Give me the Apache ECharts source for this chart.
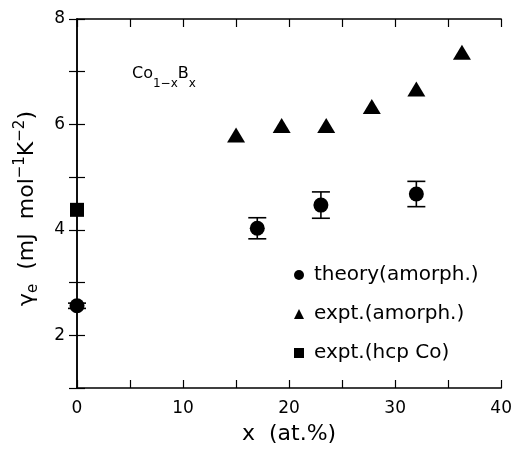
<!DOCTYPE html>
<html>
<head>
<meta charset="utf-8">
<script src="https://cdn.jsdelivr.net/npm/echarts@6/dist/echarts.min.js"></script>
<style>
  html, body { margin: 0; padding: 0; background: #fff; }
  #chart { width: 515px; height: 450px; }
</style>
</head>
<body>
<div id="chart"></div>
<script>
// Electronic specific-heat coefficient of amorphous Co(1-x)B(x)
const xTickLabels = [0, 10, 20, 30, 40];
const yTickLabels = [2, 4, 6, 8];

// theory (amorphous): composition, gamma, error half-width
const theoryX = [0, 17, 23, 32];
const theoryY = [2.56, 4.03, 4.47, 4.68];
const theoryErr = [0.05, 0.2, 0.25, 0.24];

// experiment (amorphous)
const exptX = [15, 19.3, 23.5, 27.8, 32, 36.3];
const exptY = [5.8, 5.98, 5.98, 6.34, 6.67, 7.37];

// experiment (hcp Co)
const hcpX = [0];
const hcpY = [4.38];

const FONT = 'DejaVu Sans';
const BLACK = '#000';

const theoryData = theoryX.map((x, i) => [x, theoryY[i]]);
const errData = theoryX.map((x, i) => [x, theoryY[i], theoryErr[i]]);
const exptData = exptX.map((x, i) => [x, exptY[i]]);
const hcpData = hcpX.map((x, i) => [x, hcpY[i]]);

const axisLine = { show: true, lineStyle: { color: BLACK, width: 1.5 } };
const tick = { show: true, inside: true, length: 8, lineStyle: { color: BLACK, width: 1.2 } };
const minor = { show: true, splitNumber: 2, length: 8, lineStyle: { color: BLACK, width: 1.2 } };

const chart = echarts.init(document.getElementById('chart'), null, { renderer: 'canvas' });

chart.setOption({
  animation: false,
  backgroundColor: '#fff',
  grid: { left: 77, right: 10, top: 19, bottom: 57, containLabel: false },
  xAxis: [
    {
      type: 'value', position: 'bottom', min: 0, max: 40, interval: 10,
      axisLine: axisLine, axisTick: tick, minorTick: minor,
      splitLine: { show: false },
      axisLabel: {
        color: BLACK, fontFamily: FONT, fontSize: 17, margin: 12,
        formatter: v => xTickLabels.includes(v) ? String(v) : ''
      },
      name: 'x  (at.%)', nameLocation: 'middle', nameGap: 35,
      nameTextStyle: { color: BLACK, fontFamily: FONT, fontSize: 22 }
    },
    {
      type: 'value', position: 'top', min: 0, max: 40, interval: 10,
      axisLine: axisLine, axisTick: tick, minorTick: minor,
      splitLine: { show: false }, axisLabel: { show: false }
    }
  ],
  yAxis: [
    {
      type: 'value', position: 'left', min: 1, max: 8, interval: 1,
      axisLine: axisLine, axisTick: tick, splitLine: { show: false },
      axisLabel: {
        color: BLACK, fontFamily: FONT, fontSize: 17, margin: 12,
        formatter: v => yTickLabels.includes(v) ? String(v) : ''
      },
      name: '{b|γ}{sub|e}{b|  (mJ  mol}{sup|−1}{b|K}{sup|−2}{b|)}',
      nameLocation: 'middle', nameRotate: 90, nameGap: 36,
      nameTextStyle: {
        color: BLACK, fontFamily: FONT, fontSize: 22,
        padding: [0, 10, 0, 0],
        rich: {
          b: { fontFamily: FONT, fontSize: 22, color: BLACK, lineHeight: 28, verticalAlign: 'middle' },
          sub: { fontFamily: FONT, fontSize: 15, color: BLACK, lineHeight: 14, verticalAlign: 'bottom' },
          sup: { fontFamily: FONT, fontSize: 15, color: BLACK, lineHeight: 14, verticalAlign: 'top' }
        }
      }
    },
    {
      type: 'value', position: 'right', min: 1, max: 8, interval: 1,
      axisLine: axisLine, axisTick: tick, splitLine: { show: false },
      axisLabel: { show: false }
    }
  ],
  legend: {
    orient: 'vertical', left: 289, top: 260, itemGap: 19,
    itemWidth: 10, itemHeight: 10,
    data: ['theory(amorph.)', 'expt.(amorph.)', 'expt.(hcp Co)'],
    formatter: name => '{s|}' + name,
    textStyle: {
      color: BLACK, fontFamily: FONT, fontSize: 20,
      rich: { s: { width: 5 } }
    },
    selectedMode: false
  },
  graphic: [
    {
      type: 'text', left: 132, top: 66,
      style: {
        text: '{b|Co}{s|1−x}{b|B}{s|x}',
        fill: BLACK,
        rich: {
          b: { fontFamily: FONT, fontSize: 16, fill: BLACK, lineHeight: 24, verticalAlign: 'top' },
          s: { fontFamily: FONT, fontSize: 12, fill: BLACK, lineHeight: 13, verticalAlign: 'bottom' }
        }
      }
    }
  ],
  series: [
    {
      name: 'errbars', type: 'custom', xAxisIndex: 0, yAxisIndex: 0,
      data: errData, clip: false, z: 2,
      renderItem: function (params, api) {
        const x = api.value(0), y = api.value(1), e = api.value(2);
        const top = api.coord([x, y + e]);
        const bot = api.coord([x, y - e]);
        const hw = 9;
        const st = { stroke: BLACK, lineWidth: 1.6 };
        return {
          type: 'group',
          children: [
            { type: 'line', shape: { x1: top[0], y1: top[1], x2: bot[0], y2: bot[1] }, style: st },
            { type: 'line', shape: { x1: top[0] - hw, y1: top[1], x2: top[0] + hw, y2: top[1] }, style: st },
            { type: 'line', shape: { x1: bot[0] - hw, y1: bot[1], x2: bot[0] + hw, y2: bot[1] }, style: st }
          ]
        };
      }
    },
    {
      name: 'theory(amorph.)', type: 'scatter', data: theoryData,
      symbol: 'circle', symbolSize: 15, clip: false, z: 3,
      itemStyle: { color: BLACK, opacity: 1 }
    },
    {
      name: 'expt.(amorph.)', type: 'scatter', data: exptData,
      symbol: 'triangle', symbolSize: [18, 15], clip: false, z: 3,
      itemStyle: { color: BLACK, opacity: 1 }
    },
    {
      name: 'expt.(hcp Co)', type: 'scatter', data: hcpData,
      symbol: 'rect', symbolSize: 14, clip: false, z: 3,
      itemStyle: { color: BLACK, opacity: 1 }
    }
  ]
});
</script>
</body>
</html>
